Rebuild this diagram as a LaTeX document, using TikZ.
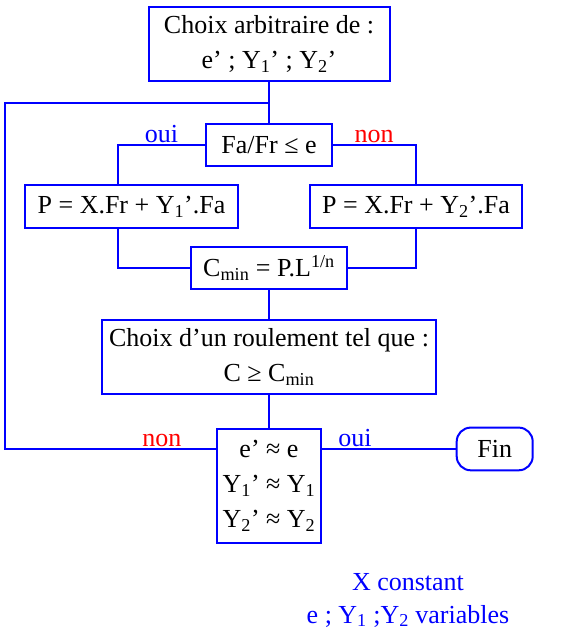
\documentclass[tikz,border=0pt]{standalone}
\usepackage{fontspec}
\setmainfont{Liberation Serif}
\usetikzlibrary{positioning, calc}

\begin{document}
\begin{tikzpicture}[x=1pt, y=-1pt,
				box/.style={draw=blue, line width=2pt, outer sep=0pt, inner sep=3pt, align=center, font=\fontsize{26}{35}\selectfont},
				line/.style={draw=blue, line width=2pt},
				oui/.style={above, inner sep=1pt, text=blue, font=\fontsize{26}{30}\selectfont},
				non/.style={above, inner sep=1pt, text=red, font=\fontsize{26}{30}\selectfont}]
				
				\useasboundingbox (0,0) rectangle (578,633);
				
				\node[box, minimum width=241pt, minimum height=74pt] (choix) at (269,44) {Choix arbitraire de :\\e’ ; Y\textsubscript{1}’ ; Y\textsubscript{2}’};
				\node[box, below=43.3pt of choix, minimum width=126.6pt, minimum height=41.7pt] (test) {Fa/Fr ≤ e};
				
				\node[box, below=19.3pt of test, xshift=-137.5pt, minimum width=212.4pt, minimum height=42.7pt] (p1) {P = X.Fr + Y\textsubscript{1}’.Fa};
				\node[box, below=19.3pt of test, xshift=147pt, minimum width=211.7pt, minimum height=42.7pt] (p2) {P = X.Fr + Y\textsubscript{2}’.Fa};
				
				\node[box, below=81pt of test, minimum width=156.6pt, minimum height=41.6pt] (cmin) {C\textsubscript{min} = P.L\textsuperscript{1/n}};
				\node[box, below=31.7pt of cmin, minimum width=334.3pt, minimum height=74pt] (roul) {Choix d’un roulement tel que :\\C ≥ C\textsubscript{min}};
				\node[box, below=34.3pt of roul, minimum width=104pt, minimum height=114.7pt] (eq) {e’ ≈ e\\Y\textsubscript{1}’ ≈ Y\textsubscript{1}\\Y\textsubscript{2}’ ≈ Y\textsubscript{2}};
				\node[box, right=135.7pt of eq, yshift=37pt, rounded corners=14pt, minimum width=76pt, minimum height=42.7pt] (fin) {Fin};
				
				\node[align=center, text=blue, font=\fontsize{26}{33}\selectfont] (note) at (408,600) {X constant\\e ; Y\textsubscript{1} ;Y\textsubscript{2} variables};
				
				\coordinate (join) at ($(choix.south)!0.5!(test.north)$);
				\coordinate (bord) at (5,0);
				
				\draw[line] (choix) -- (test);
				\draw[line] (test.west) -| node[oui, pos=0.25] {oui} ([xshift=-14pt]p1.north);
				\draw[line] (test.east) -| node[non, pos=0.25] {non} (p2.north);
				\draw[line] ([xshift=-14pt]p1.south) |- (cmin.west);
				\draw[line] (p2.south) |- (cmin.east);
				\draw[line] (cmin) -- (roul);
				\draw[line] (roul) -- (eq);
				\draw[line] (eq.east |- fin.west) -- node[oui, pos=0.25] {oui} (fin.west);
				\draw[line] (eq.west |- fin.west) -| node[non, pos=0.13] {non} (bord |- join) -- (join);
			\end{tikzpicture}
\end{document}
